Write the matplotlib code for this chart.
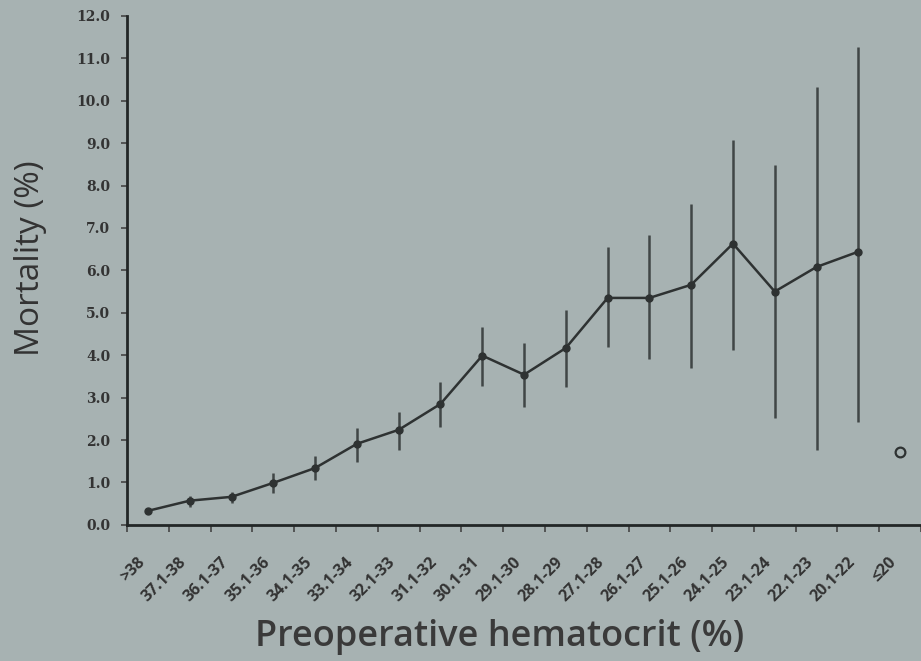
import matplotlib
matplotlib.use("Agg")
import matplotlib.pyplot as plt
import numpy as np

categories = [">38", "37.1-38", "36.1-37", "35.1-36", "34.1-35", "33.1-34",
              "32.1-33", "31.1-32", "30.1-31", "29.1-30", "28.1-29", "27.1-28",
              "26.1-27", "25.1-26", "24.1-25", "23.1-24", "22.1-23", "20.1-22",
              "\u226420"]
mortality = [0.33, 0.57, 0.66, 0.99, 1.34, 1.91, 2.24, 2.85, 3.99, 3.54, 4.17,
             5.35, 5.35, 5.66, 6.63, 5.50, 6.08, 6.44]
ci_low = [0.30, 0.42, 0.52, 0.75, 1.06, 1.49, 1.77, 2.31, 3.28, 2.78, 3.25,
          4.20, 3.92, 3.70, 4.13, 2.52, 1.77, 2.43]
ci_high = [0.36, 0.68, 0.78, 1.23, 1.63, 2.29, 2.67, 3.37, 4.67, 4.29, 5.07,
           6.56, 6.84, 7.57, 9.08, 8.49, 10.33, 11.27]
last_value = 1.72

bg = "#a7b2b2"
dark = "#2e3232"

fig = plt.figure(figsize=(9.21, 6.61), dpi=100, facecolor=bg)
ax = fig.add_axes([0.138, 0.206, 0.862, 0.770], facecolor=bg)

x = np.arange(len(mortality))
y = np.array(mortality)
yerr = [y - np.array(ci_low), np.array(ci_high) - y]

ax.errorbar(x, y, yerr=yerr, fmt="none", ecolor="#404646", elinewidth=1.8, capsize=0)
ax.plot(x, y, color=dark, lw=1.8, marker="o", markersize=5, markerfacecolor=dark)
ax.plot([len(categories) - 1], [last_value], marker="o", markersize=7,
        markerfacecolor="none", markeredgecolor=dark, markeredgewidth=1.6, linestyle="none")

ax.set_xlim(-0.5, 18.45)
ax.set_ylim(0, 12)

for s in ["top", "right"]:
    ax.spines[s].set_visible(False)
for s in ["left", "bottom"]:
    ax.spines[s].set_color("#222626")
    ax.spines[s].set_linewidth(2)

yt = np.arange(0, 12.5, 1.0)
ax.set_yticks(yt)
ax.set_yticklabels([f"{v:.1f}" for v in yt],
                   fontfamily="DejaVu Serif", fontweight="bold", fontsize=10, color="#333")
ax.tick_params(axis="y", length=4, width=1.2, color="#444", pad=8)

# tick marks between categories, labels centred on categories
ax.set_xticks(np.arange(-0.5, len(categories), 1.0))
ax.set_xticklabels([])
ax.tick_params(axis="x", which="major", length=5, width=1.2, color="#444")
ax.set_xticks(np.arange(len(categories)), minor=True)
ax.set_xticklabels(categories, minor=True, rotation=45, ha="right",
                   fontfamily="Open Sans", fontweight="bold", fontsize=11.5, color="#333")
ax.tick_params(axis="x", which="minor", length=0, pad=21)

fig.text(0.033, 0.61, "Mortality (%)", fontfamily="Open Sans", fontsize=24,
         color="#333", rotation=90, ha="center", va="center")
fig.text(0.542, 0.036, "Preoperative hematocrit (%)", fontfamily="Open Sans",
         fontweight="semibold", fontsize=26, color="#3a3a3a", ha="center", va="center")

fig.savefig("out.png", dpi=100, facecolor=bg)
